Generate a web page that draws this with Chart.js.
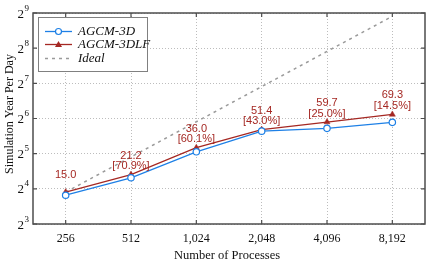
<!DOCTYPE html>
<html>
<head>
    <script src="https://cdn.jsdelivr.net/npm/chart.js"></script>
    <style>
        html, body { margin: 0; padding: 0; background: #fff; }
        .chart-container { width: 443px; height: 266px; }
    </style>
</head>
<body>
    <div class="chart-container">
        <canvas id="scalingChart"></canvas>
    </div>
    <script>
        const processes = ['256', '512', '1,024', '2,048', '4,096', '8,192'];
        const agcm3d = [14.1, 19.9, 33.2, 49.9, 52.7, 59.3];
        const agcm3dlf = [15.0, 21.2, 36.0, 51.4, 59.7, 69.3];
        const ideal = [15, 30, 60, 120, 240, 480];
        const efficiency = [null, 70.9, 60.1, 43.0, 25.0, 14.5];
        const yExponents = [3, 4, 5, 6, 7, 8, 9];

        const serif = '"Liberation Serif", "Times New Roman", serif';
        const red = 'rgb(165, 40, 35)';
        const blue = 'rgb(30, 128, 230)';

        // frame, mirrored ticks, power-of-two labels, titles, point labels, legend
        const decorations = {
            id: 'decorations',
            afterDatasetsDraw(chart) {
                const ctx = chart.ctx;
                const a = chart.chartArea;
                const xs = chart.scales.x, ys = chart.scales.y;
                ctx.save();
                // y tick labels as 2^n
                ctx.fillStyle = '#111';
                ctx.textBaseline = 'alphabetic';
                yExponents.forEach(e => {
                    const y = ys.getPixelForValue(2 ** e);
                    ctx.font = '13px ' + serif;
                    ctx.textAlign = 'right';
                    ctx.fillText('2', 24, y + 4.5);
                    ctx.font = '9px ' + serif;
                    ctx.textAlign = 'left';
                    ctx.fillText(String(e), 24.5, y - 2.5);
                });
                // axis titles
                ctx.font = '12.5px ' + serif;
                ctx.textAlign = 'center';
                ctx.textBaseline = 'middle';
                ctx.fillText('Number of Processes', 227, 256);
                ctx.save();
                ctx.font = '12px ' + serif;
                ctx.translate(10, 114);
                ctx.rotate(-Math.PI / 2);
                ctx.fillText('Simulation Year Per Day', 0, 0);
                ctx.restore();
                // labels above AGCM-3DLF points
                const meta = chart.getDatasetMeta(1);
                ctx.fillStyle = red;
                ctx.font = '11px "Liberation Sans", Arial, sans-serif';
                meta.data.forEach((pt, i) => {
                    if (efficiency[i] === null) {
                        ctx.fillText(agcm3dlf[i].toFixed(1), pt.x, pt.y - 17);
                    } else {
                        ctx.fillText(agcm3dlf[i].toFixed(1), pt.x, pt.y - 19);
                        ctx.fillText('[' + efficiency[i].toFixed(1) + '%]', pt.x, pt.y - 8.5);
                    }
                });
                // frame
                ctx.strokeStyle = '#4d4d4d';
                ctx.lineWidth = 1.5;
                ctx.strokeRect(a.left, a.top, a.right - a.left, a.bottom - a.top);
                // tick marks inside the frame
                ctx.lineWidth = 1.2;
                ctx.beginPath();
                processes.forEach((p, i) => {
                    const x = xs.getPixelForValue(i);
                    ctx.moveTo(x, a.bottom); ctx.lineTo(x, a.bottom - 4);
                    ctx.moveTo(x, a.top); ctx.lineTo(x, a.top + 4);
                });
                yExponents.forEach(e => {
                    const y = ys.getPixelForValue(2 ** e);
                    ctx.moveTo(a.left, y); ctx.lineTo(a.left + 4, y);
                    ctx.moveTo(a.right, y); ctx.lineTo(a.right - 4, y);
                });
                ctx.stroke();
                // legend
                const lx = 38, ly = 17, lw = 109, lh = 54;
                const rows = [31.5, 44.5, 58.5];
                ctx.fillStyle = '#fff';
                ctx.fillRect(lx, ly, lw, lh);
                ctx.strokeStyle = '#808080';
                ctx.lineWidth = 1;
                ctx.strokeRect(lx + 0.5, ly + 0.5, lw, lh);
                chart.data.datasets.forEach((ds, i) => {
                    const y = rows[i];
                    ctx.save();
                    ctx.strokeStyle = ds.borderColor;
                    ctx.lineWidth = ds.borderWidth;
                    ctx.setLineDash(ds.borderDash || []);
                    ctx.beginPath();
                    ctx.moveTo(lx + 7, y); ctx.lineTo(lx + 34, y);
                    ctx.stroke();
                    ctx.restore();
                    if (ds.pointStyle === 'circle') {
                        ctx.fillStyle = '#fff';
                        ctx.strokeStyle = ds.borderColor;
                        ctx.lineWidth = 1.2;
                        ctx.beginPath();
                        ctx.arc(lx + 20.5, y, 3, 0, Math.PI * 2);
                        ctx.fill(); ctx.stroke();
                    } else if (ds.pointStyle === 'triangle') {
                        ctx.fillStyle = ds.borderColor;
                        ctx.beginPath();
                        ctx.moveTo(lx + 20.5, y - 3.5);
                        ctx.lineTo(lx + 24, y + 2.5);
                        ctx.lineTo(lx + 17, y + 2.5);
                        ctx.closePath();
                        ctx.fill();
                    }
                    ctx.fillStyle = '#111';
                    ctx.font = 'italic 13px ' + serif;
                    ctx.textAlign = 'left';
                    ctx.fillText(ds.label, lx + 40, y + 0.5);
                });
                ctx.restore();
            }
        };

        const ctx = document.getElementById('scalingChart').getContext('2d');
        new Chart(ctx, {
            type: 'line',
            data: {
                labels: processes,
                datasets: [
                    {
                        label: 'AGCM-3D',
                        data: agcm3d,
                        borderColor: blue,
                        backgroundColor: '#fff',
                        borderWidth: 1.3,
                        pointStyle: 'circle',
                        pointRadius: 3.2,
                        pointBorderWidth: 1.2,
                        order: 0
                    },
                    {
                        label: 'AGCM-3DLF',
                        data: agcm3dlf,
                        borderColor: red,
                        backgroundColor: red,
                        borderWidth: 1.3,
                        pointStyle: 'triangle',
                        pointRadius: 3.5,
                        pointBorderWidth: 0.5,
                        order: 1
                    },
                    {
                        label: 'Ideal',
                        data: ideal,
                        borderColor: '#9a9a9a',
                        borderWidth: 1.5,
                        borderDash: [3, 4],
                        pointRadius: 0,
                        order: 2
                    }
                ]
            },
            options: {
                responsive: true,
                maintainAspectRatio: false,
                animation: false,
                layout: { padding: { top: 13, right: 18, left: 0, bottom: 0 } },
                plugins: {
                    legend: { display: false },
                    tooltip: { enabled: false }
                },
                scales: {
                    x: {
                        type: 'category',
                        offset: true,
                        grid: { color: '#bdbdbd', lineWidth: 1, drawTicks: false, offset: false },
                        border: { display: false, dash: [1, 2] },
                        ticks: { color: '#111', font: { family: serif, size: 12 }, padding: 8, maxRotation: 0 },
                        afterFit(scale) { scale.height = 42; }
                    },
                    y: {
                        type: 'logarithmic',
                        min: 8,
                        max: 512,
                        afterBuildTicks(scale) {
                            scale.ticks = yExponents.map(e => ({ value: 2 ** e }));
                        },
                        grid: { color: '#bdbdbd', lineWidth: 1, drawTicks: false },
                        border: { display: false, dash: [1, 2] },
                        ticks: { display: false },
                        afterFit(scale) { scale.width = 33; }
                    }
                }
            },
            plugins: [decorations]
        });
    </script>
</body>
</html>
